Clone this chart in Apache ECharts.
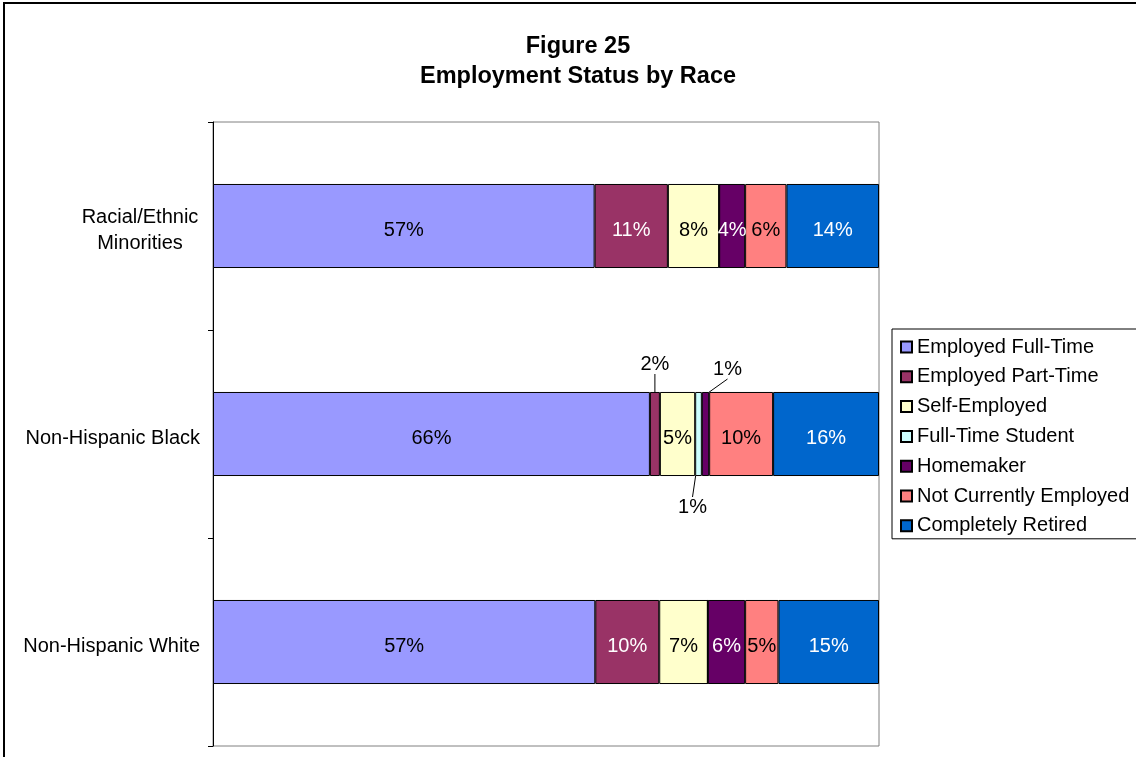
<!DOCTYPE html>
<html>
<head>
<meta charset="utf-8">
<script src="https://cdn.jsdelivr.net/npm/echarts@6/dist/echarts.min.js"></script>
<style>html,body{margin:0;padding:0;background:#fff;overflow:hidden}#c{width:1136px;height:757px}</style>
</head>
<body>
<div id="c"></div>
<script>
// Categories listed bottom-to-top
const categories = ['Non-Hispanic White', 'Non-Hispanic Black', 'Racial/Ethnic Minorities'];
const seriesNames = ['Employed Full-Time', 'Employed Part-Time', 'Self-Employed', 'Full-Time Student', 'Homemaker', 'Not Currently Employed', 'Completely Retired'];
const fullTime    = [57.4, 65.6, 57.3];
const partTime    = [9.6, 1.5, 11.0];
const selfEmp     = [7.3, 5.3, 7.7];
const student     = [0, 1.0, 0];
const homemaker   = [5.6, 1.1, 3.9];
const notEmployed = [5.0, 9.6, 6.2];
const retired     = [15.1, 15.9, 13.9];

const values = [fullTime, partTime, selfEmp, student, homemaker, notEmployed, retired];
const colors = ['#9999FF', '#993366', '#FFFFCC', '#CCFFFF', '#660066', '#FF8080', '#0066CC'];
const labelColors = ['#000', '#fff', '#000', '#000', '#fff', '#000', '#fff'];
// labels moved outside the bar (seriesIndex-dataIndex -> offset)
const moved = { '1-1': [0, -70], '3-1': [-6, 73], '4-1': [22, -65] };

const FONT = 'Arial, "Liberation Sans", sans-serif';

const chart = echarts.init(document.getElementById('c'));
const series = seriesNames.map((name, si) => ({
  name, type: 'bar', stack: 'total', barWidth: '40.4%',
  itemStyle: { color: colors[si], borderColor: '#000', borderWidth: 1 },
  label: {
    show: true, position: 'inside', color: labelColors[si],
    fontSize: 20, fontFamily: FONT,
    formatter: p => p.value > 0 ? Math.round(p.value) + '%' : ''
  },
  labelLayout: p => {
    const o = moved[p.seriesIndex + '-' + p.dataIndex];
    return o ? { dx: o[0], dy: o[1] } : { dy: 4 };
  },
  data: values[si].map((v, di) => moved[si + '-' + di]
    ? { value: v, label: { color: '#000' }, labelLine: { show: true, lineStyle: { color: '#000', width: 1 } } }
    : v)
}));

chart.setOption({
  animation: false,
  backgroundColor: '#fff',
  title: {
    text: 'Figure 25\nEmployment Status by Race',
    left: 573, top: 27, textAlign: 'center',
    textStyle: { fontSize: 23.5, fontWeight: 'bold', fontFamily: FONT, color: '#000', lineHeight: 30 }
  },
  graphic: [{
    type: 'rect', shape: { x: 4, y: 3, width: 1200, height: 800 },
    style: { fill: 'none', stroke: '#000', lineWidth: 2 }, silent: true
  }],
  legend: {
    orient: 'vertical', left: 892, top: 329,
    padding: [8, 20, 3, 8],
    borderColor: '#000', borderWidth: 1,
    itemWidth: 11, itemHeight: 11, itemGap: 9.8,
    icon: 'rect',
    textStyle: { fontSize: 20, fontFamily: FONT, color: '#000', lineHeight: 20 },
    data: seriesNames
  },
  grid: {
    left: 213, top: 122, right: 257, bottom: 11,
    show: true, borderColor: '#808080', borderWidth: 1
  },
  xAxis: { type: 'value', min: 0, max: 100, show: false },
  yAxis: {
    type: 'category', data: categories,
    axisLine: { lineStyle: { color: '#000', width: 1 } },
    axisTick: { show: true, length: 5, lineStyle: { color: '#000' } },
    axisLabel: {
      margin: 13, fontSize: 20, fontFamily: FONT, color: '#000', padding: [8, 0, 0, 0],
      formatter: v => v === 'Racial/Ethnic Minorities' ? '{a|Racial/Ethnic}\n{a|Minorities}' : v,
      rich: { a: { width: 120, align: 'center', fontSize: 20, fontFamily: FONT, color: '#000', lineHeight: 26 } }
    }
  },
  series
});
</script>
</body>
</html>
